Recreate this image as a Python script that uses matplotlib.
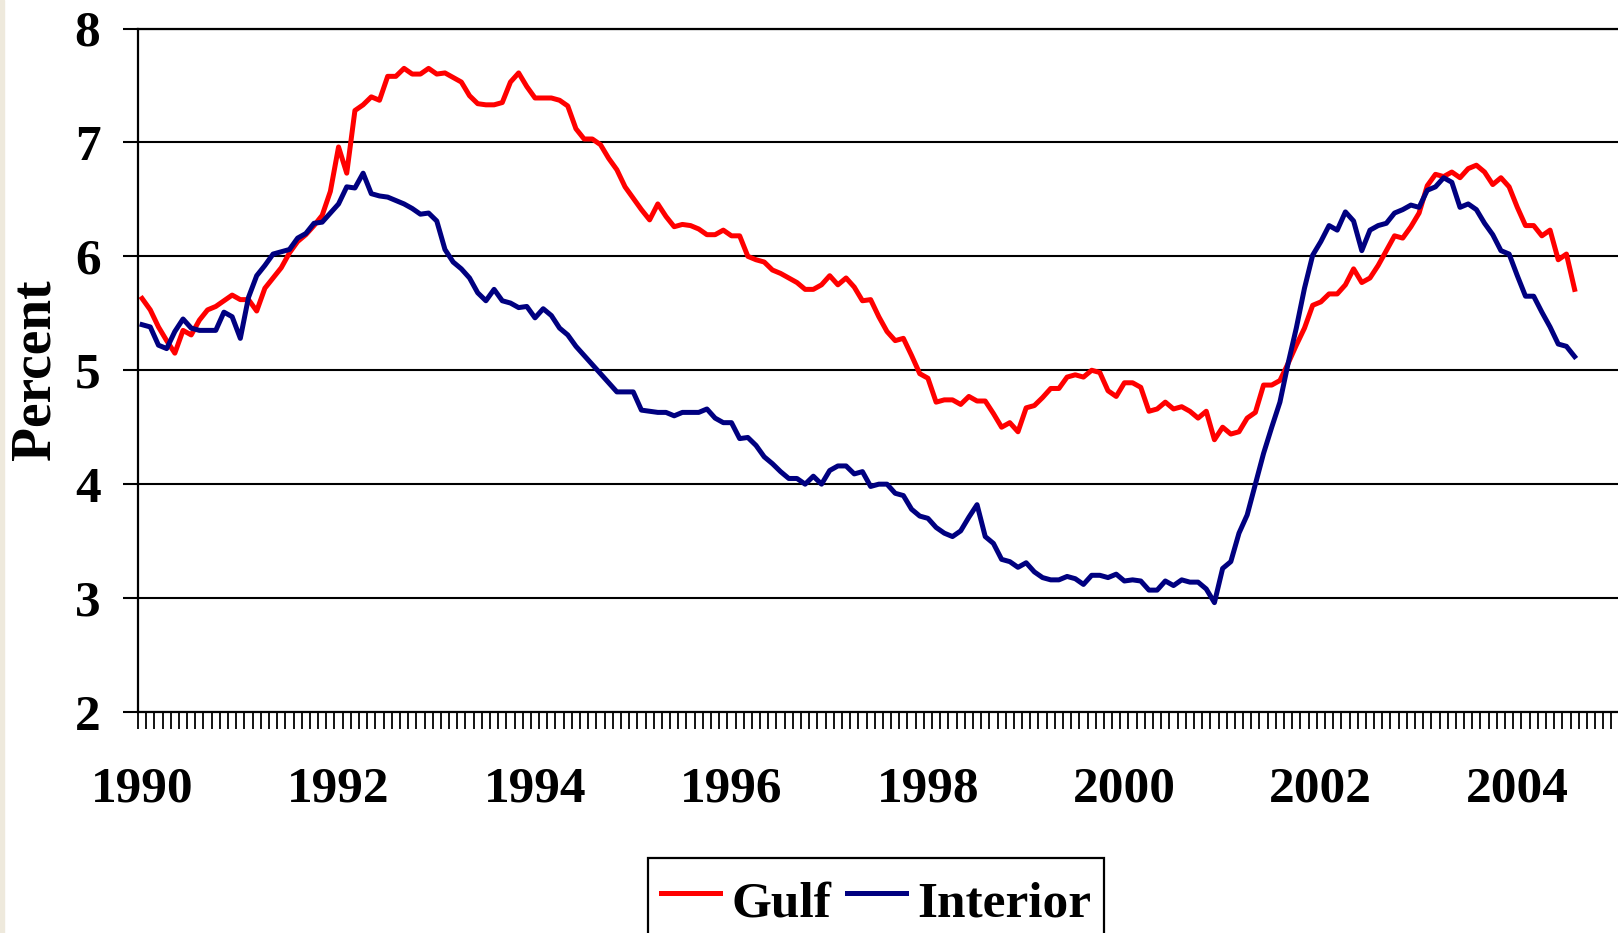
import numpy as np
import matplotlib.pyplot as plt
from matplotlib.patches import Rectangle

# year labels on the x axis (one label every 24 months)
years = ['1990', '1992', '1994', '1996', '1998', '2000', '2002', '2004']

# monthly values, Jan 1990 - Aug 2004 (percent)
gulf = [5.63, 5.53, 5.38, 5.26, 5.15, 5.35, 5.31, 5.44, 5.53, 5.56,
        5.61, 5.66, 5.62, 5.62, 5.52, 5.72, 5.81, 5.90, 6.03, 6.13,
        6.19, 6.27, 6.36, 6.57, 6.96, 6.73, 7.28, 7.33, 7.40, 7.37,
        7.58, 7.58, 7.65, 7.60, 7.60, 7.65, 7.60, 7.61, 7.57, 7.53,
        7.41, 7.34, 7.33, 7.33, 7.35, 7.53, 7.61, 7.49, 7.39, 7.39,
        7.39, 7.37, 7.32, 7.12, 7.03, 7.03, 6.98, 6.86, 6.76, 6.61,
        6.51, 6.41, 6.32, 6.46, 6.35, 6.26, 6.28, 6.27, 6.24, 6.19,
        6.19, 6.23, 6.18, 6.18, 6.00, 5.97, 5.95, 5.88, 5.85, 5.81,
        5.77, 5.71, 5.71, 5.75, 5.83, 5.75, 5.81, 5.73, 5.61, 5.62,
        5.47, 5.34, 5.26, 5.28, 5.13, 4.97, 4.93, 4.72, 4.74, 4.74,
        4.70, 4.77, 4.73, 4.73, 4.62, 4.50, 4.54, 4.46, 4.67, 4.69,
        4.76, 4.84, 4.84, 4.94, 4.96, 4.94, 5.00, 4.98, 4.82, 4.77,
        4.89, 4.89, 4.85, 4.64, 4.66, 4.72, 4.66, 4.68, 4.64, 4.58,
        4.64, 4.39, 4.50, 4.44, 4.46, 4.58, 4.63, 4.87, 4.87, 4.91,
        5.06, 5.22, 5.37, 5.57, 5.60, 5.67, 5.67, 5.75, 5.89, 5.77,
        5.81, 5.92, 6.05, 6.18, 6.16, 6.26, 6.38, 6.62, 6.72, 6.70,
        6.74, 6.69, 6.77, 6.80, 6.74, 6.63, 6.69, 6.61, 6.43, 6.27,
        6.27, 6.18, 6.23, 5.97, 6.02, 5.71]

interior = [5.40, 5.38, 5.22, 5.19, 5.34, 5.45, 5.37, 5.35, 5.35, 5.35,
            5.51, 5.47, 5.28, 5.64, 5.83, 5.92, 6.02, 6.04, 6.06, 6.16,
            6.20, 6.29, 6.30, 6.38, 6.46, 6.61, 6.60, 6.73, 6.55, 6.53,
            6.52, 6.49, 6.46, 6.42, 6.37, 6.38, 6.31, 6.06, 5.95, 5.89,
            5.81, 5.68, 5.61, 5.71, 5.61, 5.59, 5.55, 5.56, 5.46, 5.54,
            5.48, 5.37, 5.31, 5.21, 5.13, 5.05, 4.97, 4.89, 4.81, 4.81,
            4.81, 4.65, 4.64, 4.63, 4.63, 4.60, 4.63, 4.63, 4.63, 4.66,
            4.58, 4.54, 4.54, 4.40, 4.41, 4.34, 4.24, 4.18, 4.11, 4.05,
            4.05, 4.00, 4.07, 4.00, 4.12, 4.16, 4.16, 4.09, 4.11, 3.98,
            4.00, 4.00, 3.92, 3.90, 3.78, 3.72, 3.70, 3.62, 3.57, 3.54,
            3.59, 3.71, 3.82, 3.54, 3.48, 3.34, 3.32, 3.27, 3.31, 3.23,
            3.18, 3.16, 3.16, 3.19, 3.17, 3.12, 3.20, 3.20, 3.18, 3.21,
            3.15, 3.16, 3.15, 3.07, 3.07, 3.15, 3.11, 3.16, 3.14, 3.14,
            3.08, 2.96, 3.26, 3.32, 3.57, 3.73, 4.00, 4.27, 4.50, 4.72,
            5.06, 5.37, 5.72, 6.01, 6.13, 6.27, 6.23, 6.39, 6.31, 6.05,
            6.23, 6.27, 6.29, 6.38, 6.41, 6.45, 6.43, 6.58, 6.61, 6.69,
            6.65, 6.43, 6.46, 6.41, 6.29, 6.19, 6.05, 6.02, 5.83, 5.65,
            5.65, 5.51, 5.38, 5.23, 5.21, 5.12]

months = np.arange(len(gulf))

plt.rcParams['font.family'] = ['Liberation Serif', 'DejaVu Serif']
plt.rcParams['font.weight'] = 'bold'

W, H = 1618, 933
fig = plt.figure(figsize=(W / 100, H / 100), dpi=100)
ax = fig.add_axes([138 / W, 1 - 712 / H, 1 - 138 / W, (712 - 28.5) / H])

ax.plot(months, gulf, color='#FF0000', lw=3.6, label='Gulf')
ax.plot(months, interior, color='#000080', lw=3.6, label='Interior')

ax.set_xlim(-0.5, 180.3)
ax.set_ylim(2, 8)
ax.set_yticks(range(2, 9))
ax.set_xticks(np.arange(0, 24 * len(years), 24))
ax.set_xticklabels(years)
ax.set_xticks(np.arange(-0.5, 180, 1), minor=True)

ax.tick_params(axis='x', which='major', length=0, pad=39, labelsize=37)
ax.tick_params(axis='x', which='minor', length=12, width=1.3, direction='out')
ax.tick_params(axis='y', length=11, width=1.5, pad=16, labelsize=37)

ax.grid(axis='y', color='black', lw=1.5)
ax.spines['right'].set_visible(False)
for s in ['left', 'bottom', 'top']:
    ax.spines[s].set_linewidth(1.6)

fig.text(36 / W, 1 - 370 / H, 'Percent', rotation=90, ha='center',
         va='center', fontsize=40)

leg = fig.legend(loc='upper center', bbox_to_anchor=(876 / W, 1 - 858 / H),
                 ncol=2, fontsize=37, frameon=True, fancybox=False,
                 edgecolor='black', framealpha=1, handlelength=1.15,
                 handleheight=1.3, handletextpad=0.22, columnspacing=0.3,
                 borderpad=0.25, borderaxespad=0)
leg.get_frame().set_linewidth(1.6)

# thin beige strip on the left edge
fig.patches.append(Rectangle((0, 0), 4 / W, 1, transform=fig.transFigure,
                             color='#EEE9DC', zorder=0))

fig.savefig('out.png', dpi=100)
